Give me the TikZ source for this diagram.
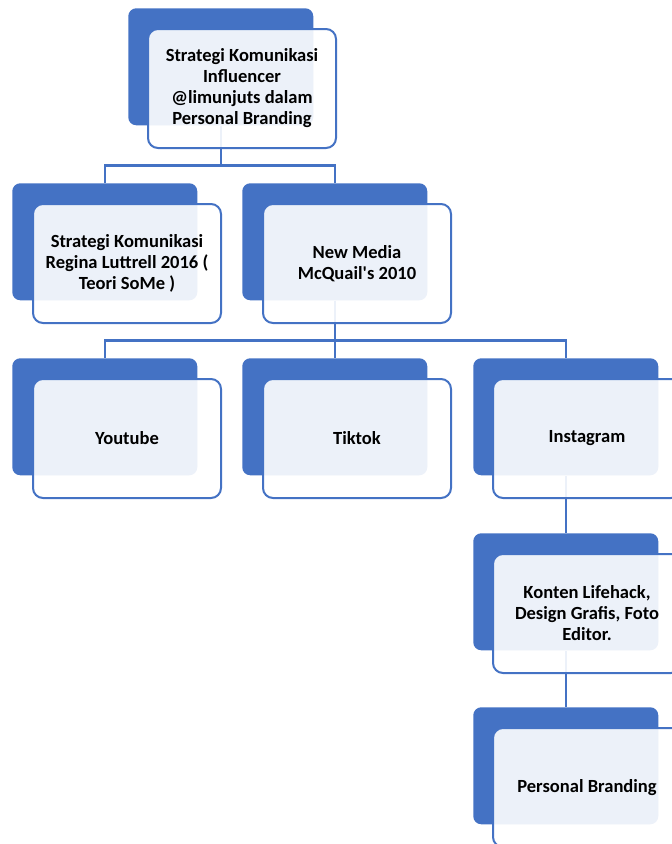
\documentclass[tikz,border=0pt]{standalone}
\usepackage{fontspec}
\setmainfont{Carlito}[Ligatures=TeXOff]
\usepackage{tikz}
\usetikzlibrary{positioning}
\definecolor{sablue}{HTML}{4472C4}

\begin{document}
\begin{tikzpicture}[x=0.75pt, y=-0.75pt,
  backbox/.style={fill=sablue, rounded corners=6pt, inner sep=0pt,
    minimum width=138.75pt, minimum height=87.75pt, anchor=north west},
  frontbox/.style={draw=sablue, line width=1.5pt, fill=white, fill opacity=0.9,
    text opacity=1, rounded corners=7.5pt, inner sep=0pt, minimum width=141pt,
    minimum height=89.25pt, align=center, anchor=north west,
    font=\fontsize{13.9}{15.75}\selectfont\bfseries},
  link/.style={draw=sablue, line width=1.6pt}]
\useasboundingbox (0,0) rectangle (672,844);
\clip (0,0) rectangle (672,844);
% back boxes
\node[backbox] (rootbk) at (128,8) {};
\node[backbox] (stratbk) at (12,183) {};
\node[backbox] (mediabk) at (242,183) {};
\node[backbox] (ytbk) at (12,358) {};
\node[backbox] (ttbk) at (242,358) {};
\node[backbox] (igbk) at (473,358) {};
\node[backbox] (kontenbk) at (473,533) {};
\node[backbox] (pbbk) at (473,707) {};
% connectors
\draw[link] (rootbk.south) -- ++(0,40) -| (stratbk.north);
\draw[link] (rootbk.south) -- ++(0,40) -| (mediabk.north);
\draw[link] (mediabk.south) -- ++(0,40) -| (ytbk.north);
\draw[link] (mediabk.south) -- ++(0,40) -| (ttbk.north);
\draw[link] (mediabk.south) -- ++(0,40) -| (igbk.north);
\draw[link] (igbk.south) -- (kontenbk.north);
\draw[link] (kontenbk.south) -- (pbbk.north);
% front boxes
\node[frontbox] (root) at ([shift={(19,20)}]rootbk.north west)
  {Strategi Komunikasi\\Influencer\\@limunjuts dalam\\Personal Branding};
\node[frontbox] (strat) at ([shift={(20,20)}]stratbk.north west)
  {Strategi Komunikasi\\Regina Luttrell 2016 (\\Teori SoMe )};
\node[frontbox] (media) at ([shift={(20,20)}]mediabk.north west)
  {New Media\\McQuail's 2010};
\node[frontbox] (yt) at ([shift={(20,20)}]ytbk.north west) {Youtube};
\node[frontbox] (tt) at ([shift={(20,20)}]ttbk.north west) {Tiktok};
\node[frontbox] (ig) at ([shift={(19,20)}]igbk.north west) {Instagram};
\node[frontbox] (konten) at ([shift={(19,20)}]kontenbk.north west)
  {Konten Lifehack,\\Design Grafis, Foto\\Editor.};
\node[frontbox] (pb) at ([shift={(19,20)}]pbbk.north west) {Personal Branding};
\end{tikzpicture}
\end{document}
